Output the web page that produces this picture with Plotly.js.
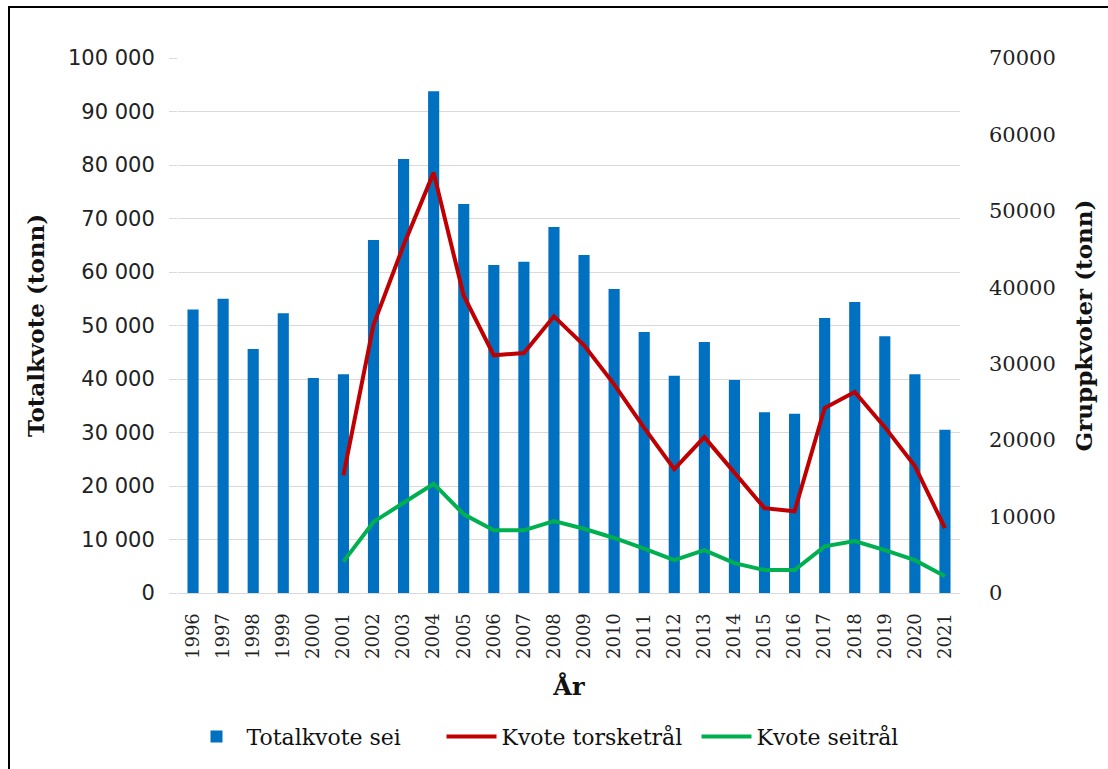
<!DOCTYPE html>
<html>
<head>
<meta charset="utf-8">
<script src="https://cdn.plot.ly/plotly-3.0.1.min.js"></script>
<style>
html,body{margin:0;padding:0;background:#fff;overflow:hidden;}
#frame{position:absolute;left:8px;top:6px;width:1110px;height:780px;border-left:2px solid #000;border-top:2px solid #000;box-sizing:border-box;pointer-events:none;z-index:10;}
#chart{position:absolute;left:0;top:0;width:1108px;height:769px;}
</style>
</head>
<body>
<div id="chart"></div>
<div id="frame"></div>
<script>
const years = ['1996','1997','1998','1999','2000','2001','2002','2003','2004','2005','2006','2007','2008','2009','2010','2011','2012','2013','2014','2015','2016','2017','2018','2019','2020','2021'];
const totalkvoteSei = [53000,55000,45600,52300,40200,40900,66000,81100,93800,72700,61300,61900,68400,63200,56800,48800,40600,46900,39800,33800,33500,51400,54400,48000,40900,30500];
const kvoteTorsketral = [null,null,null,null,null,15400,35100,45500,55000,38900,31100,31400,36200,32400,27300,21600,16200,20400,15700,11100,10700,24200,26300,21700,16600,8500];
const kvoteSeitral = [null,null,null,null,null,4100,9300,11800,14300,10300,8200,8200,9400,8400,7200,5800,4300,5600,3900,3000,3000,6100,6800,5600,4300,2200];

const serif = '"DejaVu Serif", serif';
const traces = [
  {type:'bar', name:'Totalkvote sei', x:years, y:totalkvoteSei, marker:{color:'#0070C0'}, width:0.37, yaxis:'y'},
  {type:'scatter', mode:'lines', name:'Kvote torsketrål', x:years, y:kvoteTorsketral, line:{color:'#C00000', width:4}, yaxis:'y2'},
  {type:'scatter', mode:'lines', name:'Kvote seitrål', x:years, y:kvoteSeitral, line:{color:'#00B050', width:4}, yaxis:'y2'}
];
const layout = {
  width:1108, height:769,
  margin:{l:178, r:148, t:58, b:176},
  paper_bgcolor:'#fff', plot_bgcolor:'#fff',
  separators:'. ',
  showlegend:true,
  xaxis:{
    type:'category', tickangle:-90, automargin:false,
    tickfont:{family:serif, size:18, color:'#222'},
    showline:true, linecolor:'#d9d9d9', linewidth:1,
    ticks:'', showgrid:false, ticklabelstandoff:12,
    title:{text:'<b>År</b>', font:{family:serif, size:24, color:'#111'}, standoff:20}
  },
  yaxis:{
    range:[0,100000], dtick:10000, tickformat:',d', automargin:false,
    showgrid:true, gridcolor:'#d9d9d9', gridwidth:1,
    ticks:'outside', ticklen:8, tickcolor:'#d9d9d9',
    ticklabelstandoff:10,
    zeroline:false,
    tickfont:{family:'"DejaVu Sans", sans-serif', size:21, color:'#222'},
    title:{text:'<b>Totalkvote (tonn)</b>', font:{family:serif, size:23, color:'#111'}, standoff:16}
  },
  yaxis2:{
    range:[0,70000], dtick:10000, tickformat:'d', automargin:false,
    overlaying:'y', side:'right',
    showgrid:false, zeroline:false, ticks:'',
    ticklabelstandoff:28,
    tickfont:{family:serif, size:21, color:'#222'},
    title:{text:'<b>Gruppkvoter (tonn)</b>', font:{family:serif, size:23, color:'#111'}, standoff:21}
  },
  legend:{
    orientation:'h', x:0.5, xanchor:'center', xref:'paper',
    yref:'container', y:0.042, yanchor:'middle',
    font:{family:serif, size:22, color:'#111'},
    traceorder:'normal', itemwidth:50, entrywidth:190
  }
};
Plotly.newPlot('chart', traces, layout, {displayModeBar:false, staticPlot:true});
</script>
</body>
</html>
